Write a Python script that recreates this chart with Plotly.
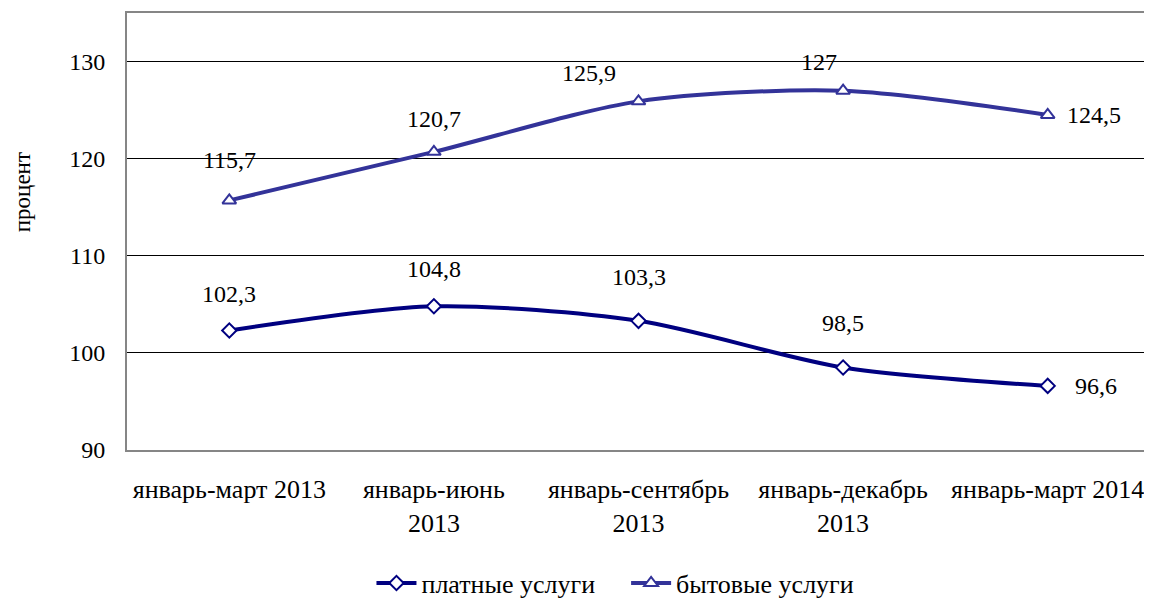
import plotly.graph_objects as go

categories = ["январь-март 2013", "январь-июнь<br>2013", "январь-сентябрь<br>2013",
              "январь-декабрь<br>2013", "январь-март 2014"]
paid = [102.3, 104.8, 103.3, 98.5, 96.6]
household = [115.7, 120.7, 125.9, 127.0, 124.5]
paid_labels = ["102,3", "104,8", "103,3", "98,5", "96,6"]
household_labels = ["115,7", "120,7", "125,9", "127", "124,5"]
series_names = ["платные услуги", "бытовые услуги"]
y_title = "процент"

x = list(range(len(categories)))
FONT = "Liberation Serif"
C1 = "#000080"
C2 = "#333399"
FS = 24

fig = go.Figure()
fig.add_trace(go.Scatter(
    x=x, y=paid, name=series_names[0] + "\u00a0\u00a0\u00a0\u00a0", mode="lines+markers",
    line=dict(color=C1, width=4, shape="spline", smoothing=0.8),
    marker=dict(symbol="diamond", size=11, color="white", line=dict(color=C1, width=2)),
))
fig.add_trace(go.Scatter(
    x=x, y=household, name=series_names[1], mode="lines+markers",
    line=dict(color=C2, width=4, shape="spline", smoothing=0.8),
    marker=dict(symbol="triangle-up", size=12, color="white", line=dict(color=C2, width=2)),
))

paid_shift = [(0, 37), (0, 37), (0, 44), (0, 44), (48, 0)]
house_shift = [(0, 40), (0, 33), (-50, 28), (-24, 29), (46, 0)]
for i in x:
    fig.add_annotation(x=x[i], y=paid[i], text=paid_labels[i], showarrow=False,
                       xshift=paid_shift[i][0], yshift=paid_shift[i][1],
                       font=dict(family=FONT, size=FS, color="black"))
    fig.add_annotation(x=x[i], y=household[i], text=household_labels[i], showarrow=False,
                       xshift=house_shift[i][0], yshift=house_shift[i][1],
                       font=dict(family=FONT, size=FS, color="black"))

# y-axis title (placed like the reference, above the vertical centre)
fig.add_annotation(xref="paper", yref="paper", x=-0.1026, y=0.59, text=y_title,
                   textangle=-90, showarrow=False, xanchor="center", yanchor="middle",
                   font=dict(family=FONT, size=23, color="black"))

fig.update_layout(
    width=1144, height=591,
    margin=dict(l=119, r=2, t=5, b=149),
    paper_bgcolor="white", plot_bgcolor="white",
    font=dict(family=FONT, size=FS, color="black"),
    showlegend=True,
    legend=dict(orientation="h", x=0.531, xanchor="center", xref="container",
                y=0.027, yanchor="middle", yref="container",
                font=dict(family=FONT, size=26), itemwidth=40, tracegroupgap=0),
)
fig.update_xaxes(
    tickmode="array", tickvals=x, ticktext=categories,
    range=[-0.5, 4.5], showgrid=False, zeroline=False, automargin=False,
    showline=True, linecolor="#868686", linewidth=2, mirror=True,
    ticks="outside", ticklen=15, tickcolor="rgba(0,0,0,0)",
    tickfont=dict(family=FONT, size=26),
)
fig.update_yaxes(
    range=[90, 135], tickvals=[90, 100, 110, 120, 130],
    showgrid=True, gridcolor="black", gridwidth=1, zeroline=False, automargin=False,
    showline=True, linecolor="#868686", linewidth=2, mirror=True,
    ticks="outside", ticklen=15, tickcolor="rgba(0,0,0,0)",
    tickfont=dict(family=FONT, size=FS),
)

fig.write_html("out.html")
